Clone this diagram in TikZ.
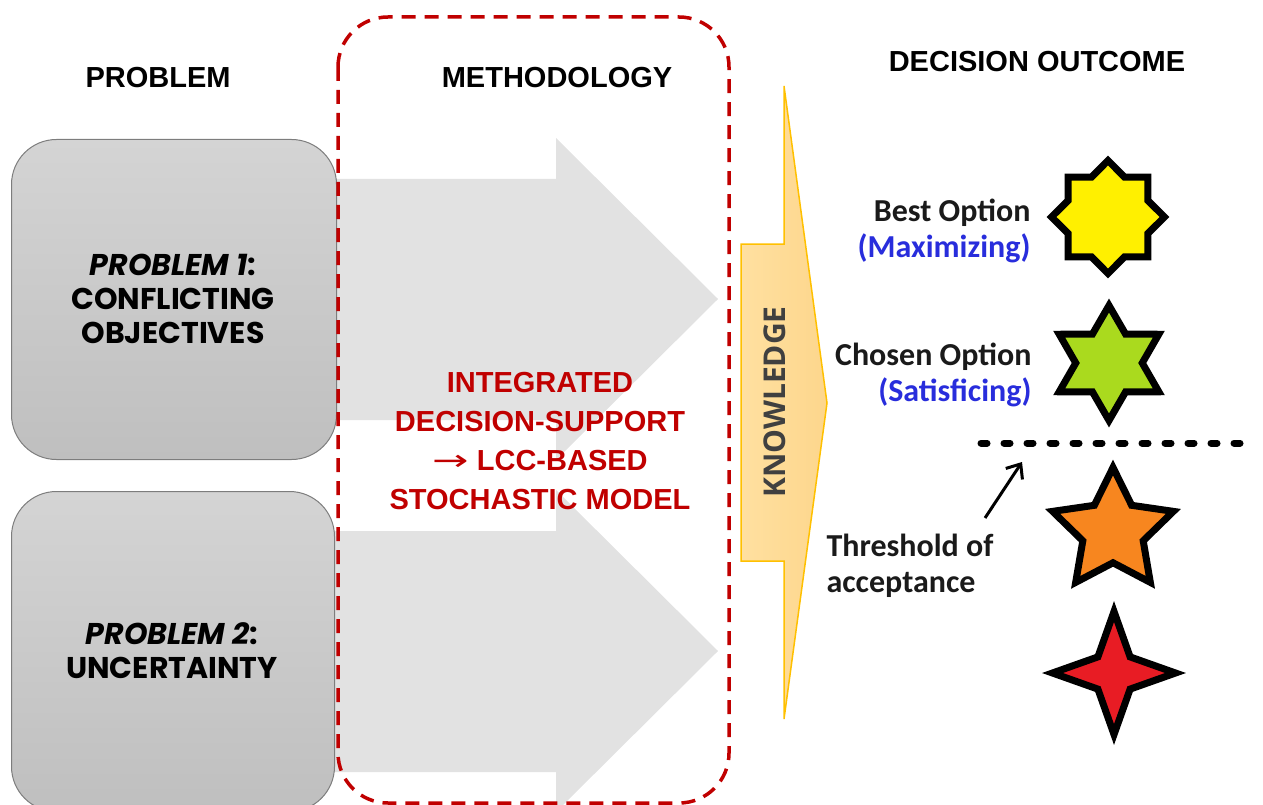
\documentclass[tikz,border=0pt]{standalone}
\usepackage{fontspec}
\setmainfont{Liberation Sans}
\newfontfamily\geofont{Poppins}
\newfontfamily\calfont{Carlito}
\newfontfamily\knowfont{Open Sans}
\newfontfamily\symfont{DejaVu Sans}
\usetikzlibrary{shapes.geometric,arrows.meta}
\definecolor{darkred}{RGB}{192,0,0}
\definecolor{arrowgray}{RGB}{226,226,226}
\definecolor{boxtop}{RGB}{212,212,212}
\definecolor{boxbot}{RGB}{191,191,191}
\definecolor{boxline}{RGB}{125,125,125}
\definecolor{knowfill}{RGB}{253,214,140}
\definecolor{knowfillL}{RGB}{255,224,160}
\definecolor{knowline}{RGB}{255,192,0}
\definecolor{knowtext}{RGB}{64,64,64}
\definecolor{optblue}{RGB}{40,45,220}
\definecolor{txtdark}{RGB}{26,26,26}
\definecolor{staryellow}{RGB}{255,240,0}
\definecolor{stargreen}{RGB}{170,218,30}
\definecolor{starorange}{RGB}{247,134,31}
\definecolor{starred}{RGB}{232,28,36}
\tikzset{
  header/.style={font=\bfseries\fontsize{29}{34}\selectfont, text=black},
  probbox/.style={rounded corners=45pt, draw=boxline, line width=1pt, top color=boxtop, bottom color=boxbot},
  probtext/.style={font=\geofont\bfseries\fontsize{30}{34}\selectfont, align=center, text=black},
  bigarrow/.style={fill=arrowgray, draw=none},
  methtext/.style={font=\bfseries\fontsize{29}{39}\selectfont, text=darkred, align=center},
  optlabel/.style={font=\calfont\bfseries\fontsize{32}{36}\selectfont, text=txtdark},
  starbase/.style={draw=black, line width=7pt, line join=miter, inner sep=0pt},
}
\begin{document}
\begin{tikzpicture}[x=1pt,y=-1pt]
\useasboundingbox (0,0) rectangle (1263,805);
\clip (0,0) rectangle (1263,805);

% big gray arrows
\path[bigarrow] (300,179) -- (556,179) -- (556,138) -- (718,299) -- (556,460) -- (556,420) -- (300,420) -- cycle;
\path[bigarrow] (300,531) -- (556,531) -- (556,490) -- (718,651) -- (556,812) -- (556,772) -- (300,772) -- cycle;

% problem boxes
\node[probbox, minimum width=325pt, minimum height=320pt, anchor=north west] (p1) at (11,139) {};
\node[probbox, minimum width=323pt, minimum height=320pt, anchor=north west] (p2) at (11,491) {};
\node[probtext] (p1t) at (173,299) {\textit{PROBLEM 1}:\\CONFLICTING\\OBJECTIVES};
\node[probtext] (p2t) at (172,651) {\textit{PROBLEM 2}:\\UNCERTAINTY};

% dashed methodology frame
\draw[darkred, line width=3.5pt, dash pattern=on 14pt off 9pt, rounded corners=50pt] (338,17) rectangle (729,803);

% headers
\node[header] (hprob) at (158,78) {PROBLEM};
\node[header] (hmeth) at (557,78) {METHODOLOGY};
\node[header] (hdec) at (1037,62) {DECISION OUTCOME};

% methodology text
\node[methtext] (meth) at (540,441) {INTEGRATED\\DECISION-SUPPORT\\\scalebox{1.5}[1]{\symfont\mdseries →} LCC-BASED\\STOCHASTIC MODEL};

% knowledge arrow
\draw[knowline, line width=1.5pt, left color=knowfillL, right color=knowfill] (741,244) -- (784,244) -- (784,86) -- (827,403) -- (784,719) -- (784,561) -- (741,561) -- cycle;
\node[rotate=90, font=\knowfont\bfseries\fontsize{30}{34}\selectfont, text=knowtext] (know) at (775,402) {KNOWLEDGE};

% stars
\node[starbase, star, star points=8, star point ratio=1.31, minimum size=113pt, fill=staryellow] (s1) at (1108,217) {};
\node[starbase, star, star points=6, star point ratio=1.73, minimum size=115pt, fill=stargreen] (s2) at (1109,363) {};
\node[starbase, star, star points=5, star point ratio=2.0, minimum size=127pt, fill=starorange] (s3) at (1113,531) {};
\node[starbase, star, star points=4, star point ratio=2.7, minimum size=123pt, fill=starred] (s4) at (1114,673) {};

% option labels
\node[optlabel, align=right, anchor=east] (best) at (1034,231) {Best Option\\\textcolor{optblue}{(Maximizing)}};
\node[optlabel, align=right, anchor=east] (chosen) at (1035,375) {Chosen Option\\\textcolor{optblue}{(Satisficing)}};
\node[optlabel, align=left, anchor=west] (thr) at (823,566) {Threshold of\\acceptance};

% threshold line and pointer
\coordinate (tl) at (981,443);
\coordinate (tr) at (1247,443);
\draw[black, line width=7pt, line cap=round, dash pattern=on 6pt off 17pt] (tl) -- (tr);
\coordinate (pa) at (985,518);
\coordinate (pb) at (1022,462);
\draw[black, line width=3pt, -{Straight Barb[length=12pt, width=20pt, line width=3pt]}] (pa) -- (pb);
\end{tikzpicture}
\end{document}
